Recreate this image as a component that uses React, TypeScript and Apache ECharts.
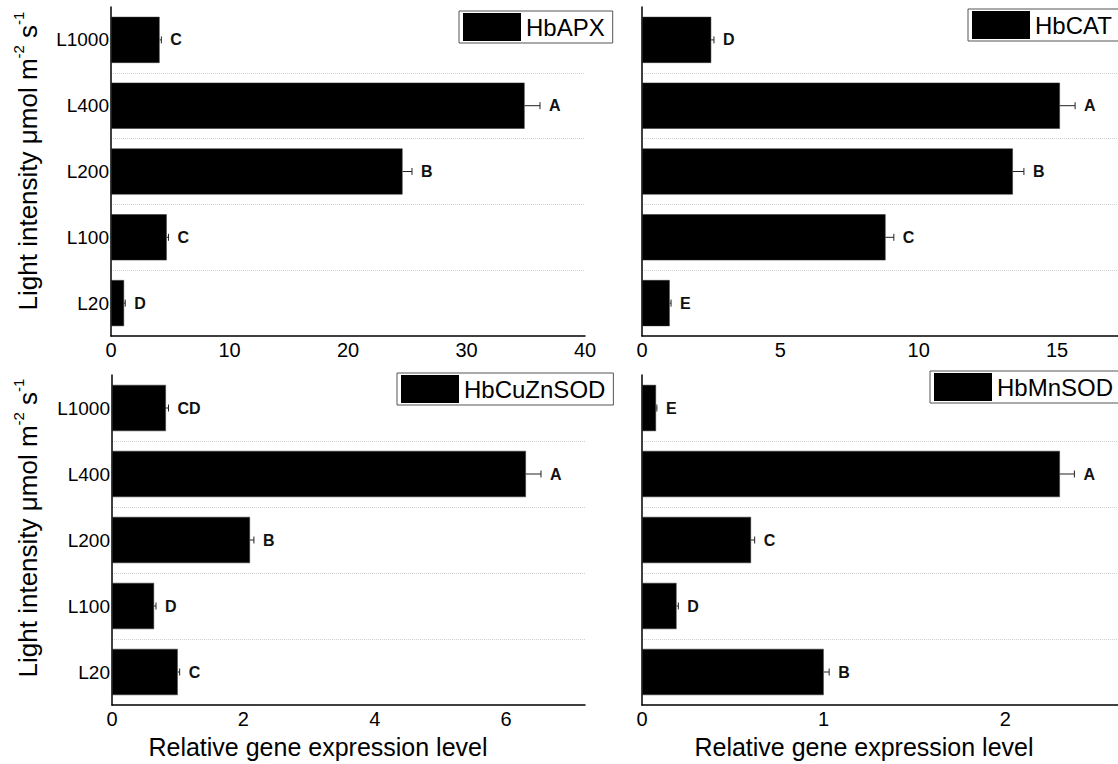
import React, { useEffect, useRef } from "react";
import * as echarts from "echarts";

const categories = ["L20", "L100", "L200", "L400", "L1000"];
const genes = ["HbAPX", "HbCAT", "HbCuZnSOD", "HbMnSOD"];

const apxValues = [1.1, 4.7, 24.6, 34.9, 4.1];
const apxErrors = [0.1, 0.15, 0.8, 1.3, 0.15];
const apxLetters = ["D", "C", "B", "A", "C"];

const catValues = [1.0, 8.8, 13.4, 15.1, 2.5];
const catErrors = [0.05, 0.3, 0.4, 0.55, 0.1];
const catLetters = ["E", "C", "B", "A", "D"];

const cuznValues = [1.0, 0.64, 2.1, 6.3, 0.82];
const cuznErrors = [0.03, 0.03, 0.06, 0.23, 0.04];
const cuznLetters = ["C", "D", "B", "A", "CD"];

const mnValues = [1.0, 0.19, 0.6, 2.3, 0.077];
const mnErrors = [0.03, 0.01, 0.02, 0.08, 0.005];
const mnLetters = ["B", "D", "C", "A", "E"];

const allValues = [apxValues, catValues, cuznValues, mnValues];
const allErrors = [apxErrors, catErrors, cuznErrors, mnErrors];
const allLetters = [apxLetters, catLetters, cuznLetters, mnLetters];

const xMaxes = [40, 17.2, 7.2, 2.62];
const xIntervals = [10, 5, 2, 1];

const yTitle = "Light intensity μmol m";
const xTitle = "Relative gene expression level";

const FONT = '"Liberation Sans", Arial, Helvetica, sans-serif';

export default function App() {
  const ref = useRef<HTMLDivElement>(null);

  useEffect(() => {
    if (!ref.current) return;
    const chart = echarts.init(ref.current, null, { renderer: "svg" });

    const grids = [
      { left: 111, top: 7, width: 474, height: 329 },
      { left: 642, top: 7, width: 477, height: 329 },
      { left: 112, top: 375, width: 473, height: 330 },
      { left: 642, top: 375, width: 477, height: 330 },
    ];
    const legendPos = [
      { left: 459, top: 11 },
      { left: 968, top: 9 },
      { left: 397, top: 373 },
      { left: 930, top: 371 },
    ];

    const xAxes = grids.map((_, i) => ({
      type: "value",
      gridIndex: i,
      min: 0,
      max: xMaxes[i],
      interval: xIntervals[i],
      axisLine: { show: true, onZero: false, lineStyle: { color: "#000", width: 1.5 } },
      axisTick: { show: false },
      splitLine: { show: false },
      axisLabel: {
        fontSize: 20,
        color: "#000",
        margin: 4,
        fontFamily: FONT,
        showMaxLabel: i === 0,
        showMinLabel: true,
      },
    }));

    const yAxes = grids.map((_, i) => ({
      type: "category",
      gridIndex: i,
      data: categories,
      axisLine: { show: true, lineStyle: { color: "#000", width: 1.5 } },
      axisTick: { show: false },
      axisLabel: {
        show: i === 0 || i === 2,
        fontSize: 19,
        color: "#000",
        margin: 2,
        fontFamily: FONT,
      },
      splitLine: {
        show: true,
        interval: 0,
        showMinLine: false,
        showMaxLine: false,
        lineStyle: { type: [1, 1], color: "#cfcfcf", width: 1 },
      },
    }));

    const series: any[] = [];
    genes.forEach((g, i) => {
      const vals = allValues[i];
      const errs = allErrors[i];
      const letters = allLetters[i];
      series.push({
        type: "bar",
        name: g,
        xAxisIndex: i,
        yAxisIndex: i,
        data: vals,
        barWidth: "70%",
        itemStyle: { color: "#000", borderColor: "#333", borderWidth: 0.5 },
      });
      series.push({
        type: "custom",
        name: g + "-err",
        xAxisIndex: i,
        yAxisIndex: i,
        z: 5,
        encode: { x: 0, y: 1 },
        data: vals.map((v, k) => [v, k, errs[k]]),
        renderItem: (params: any, api: any) => {
          const v = api.value(0);
          const c = api.value(1);
          const e = api.value(2);
          const p0 = api.coord([v, c]);
          const p1 = api.coord([v + e, c]);
          return {
            type: "group",
            children: [
              {
                type: "line",
                shape: { x1: p0[0], y1: p0[1], x2: p1[0], y2: p1[1] },
                style: { stroke: "#222", lineWidth: 1 },
              },
              {
                type: "line",
                shape: { x1: p1[0], y1: p1[1] - 3.5, x2: p1[0], y2: p1[1] + 3.5 },
                style: { stroke: "#222", lineWidth: 1 },
              },
              {
                type: "text",
                x: p1[0] + 9,
                y: p1[1],
                style: {
                  text: letters[params.dataIndex],
                  fill: "#111",
                  fontSize: 16,
                  fontWeight: "bold",
                  fontFamily: FONT,
                  align: "left",
                  verticalAlign: "middle",
                },
              },
            ],
          };
        },
      });
    });

    const legends = genes.map((g, i) => ({
      data: [g],
      left: legendPos[i].left,
      top: legendPos[i].top,
      orient: "horizontal",
      icon: "rect",
      itemWidth: 58,
      itemHeight: 28,
      padding: [2, 8, 2, 4],
      borderColor: "#555",
      borderWidth: 1,
      backgroundColor: "#fff",
      selectedMode: false,
      itemStyle: { borderWidth: 0 },
      textStyle: { fontSize: 24, color: "#000", fontFamily: FONT },
    }));

    const yTitleText = (x: number, y: number) => ({
      type: "text",
      x,
      y,
      rotation: Math.PI / 2,
      style: {
        text: `{a|${yTitle}}{s|-2}{a| s}{s|-1}`,
        align: "center",
        verticalAlign: "middle",
        fill: "#000",
        fontFamily: FONT,
        fontSize: 26,
        rich: {
          a: { fontSize: 26, fontFamily: FONT, fill: "#000", lineHeight: 34 },
          s: { fontSize: 15, fontFamily: FONT, fill: "#000", verticalAlign: "top" },
        },
      },
    });

    const xTitleText = (x: number, y: number) => ({
      type: "text",
      x,
      y,
      style: {
        text: xTitle,
        align: "center",
        verticalAlign: "middle",
        fill: "#000",
        fontFamily: FONT,
        fontSize: 25,
      },
    });

    chart.setOption({
      animation: false,
      backgroundColor: "#fff",
      textStyle: { fontFamily: FONT },
      grid: grids,
      xAxis: xAxes,
      yAxis: yAxes,
      legend: legends,
      series,
      graphic: [
        yTitleText(28, 161),
        yTitleText(28, 528),
        xTitleText(318, 747),
        xTitleText(864, 747),
      ],
    });

    return () => chart.dispose();
  }, []);

  return (
    <div
      ref={ref}
      style={{ position: "absolute", left: 0, top: 0, width: 1118, height: 764, overflow: "hidden" }}
    />
  );
}
